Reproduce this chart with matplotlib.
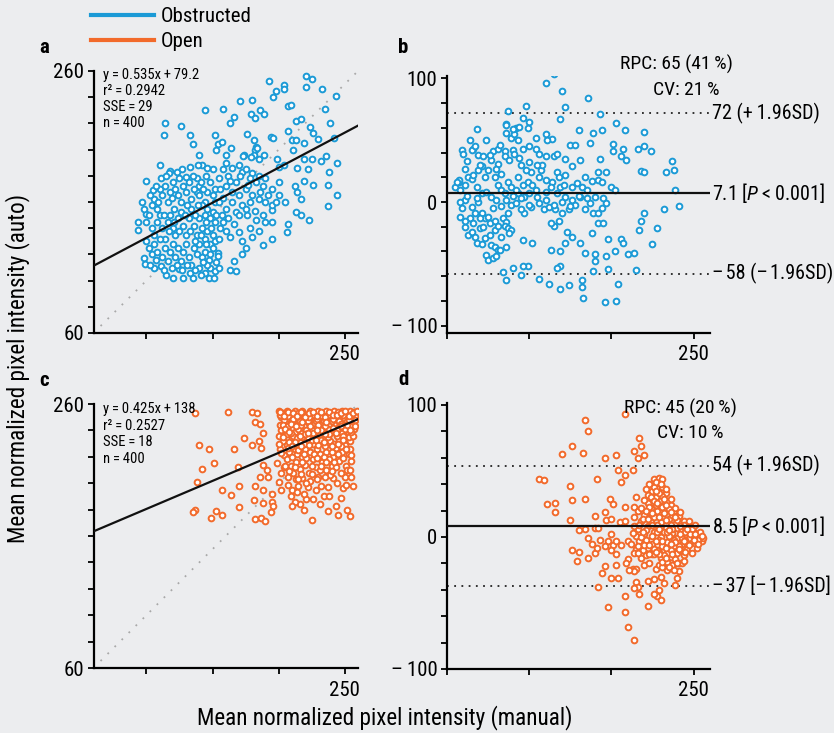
import numpy as np
import matplotlib
matplotlib.use('Agg')
import matplotlib.pyplot as plt
from matplotlib.lines import Line2D
from matplotlib import font_manager

# colours of the two groups
BLUE = '#1b9ad6'
ORANGE = '#f26a2b'
BG = '#ecedef'

# panel a: obstructed, manual vs auto
a_pts = [
    (221,256),(225,254),(193,252),(204,249),(204,246),(198,245),(221,248),(233,246),(243,241),(196,240),
    (171,237),(180,238),(207,233),(209,234),(144,230),(158,231),(186,230),(179,227),(166,225),(182,224),
    (189,227),(235,231),(213,222),(217,223),(239,220),(114,220),(126,218),(113,211),(133,211),(152,211),
    (163,220),(176,212),(194,210),(196,209),(207,214),(210,207),(213,207),(224,217),(226,213),(230,208),
    (242,209),(219,205),(211,200),(181,207),(183,202),(182,200),(135,204),(154,204),(157,206),(164,201),
    (153,200),(160,196),(174,196),(173,195),(181,196),(179,194),(184,201),(185,193),(199,193),(189,196),
    (204,188),(200,187),(219,193),(225,193),(232,191),(236,195),(244,190),(214,186),(222,185),(238,183),
    (237,173),(244,165),(237,157),(226,173),(219,176),(212,172),(214,168),(217,162),(213,152),(217,150),
    (223,146),(207,143),(206,137),(195,154),(195,145),(195,132),(188,127),(183,146),(176,150),(170,137),
    (163,133),(166,115),(175,125),(172,120),(163,108),(168,107),(154,121),(147,116),
    (160,190),(165,186),(170,188),(172,183),(175,185),(180,182),(185,180),(190,178),(183,175),(178,178),
    (188,172),(195,170),(200,175),(168,175),(162,180),(158,185),(155,178),(160,172),(165,168),(170,165),
    (175,170),(180,165),(185,162),(190,160),(195,158),(200,165),(205,160),(178,160),(172,158),(165,160),
    (158,163),(150,165),(152,170),(148,175),(145,180),(150,185),(142,188),(140,172),(138,168),(160,155),
    (168,152),(175,155),(182,153),(188,150),(163,176),(171,180),(177,173),(186,168),(192,165),(198,160),
    (156,170),(146,168),(152,160),(144,160),
    (110,188),(100,176),(105,169),(118,184),(117,182),(123,183),(130,179),(133,187),(139,188),(140,196),
    (146,186),(94,145),(100,151),(100,145),(94,139),(98,117),(99,113),(106,110),(111,111),(115,104),
    (120,102),(128,102),(135,102),(147,102),(151,102),(125,109),(133,106),(140,110),(144,106),(148,110),
    (153,114),(154,119),
    (97,160),(98,155),(102,150),(104,158),(106,162),(108,155),(110,170),(112,165),(114,172),(116,160),
    (118,168),(120,175),(122,170),(124,165),(126,160),(128,172),(130,168),(132,175),(134,162),(136,170),
    (138,178),(140,165),(142,158),(144,150),(146,155),(148,148),(150,152),(152,145),(104,140),(106,135),
    (108,145),(110,150),(112,140),(114,132),(116,145),(118,150),(120,140),(122,135),(124,148),(126,152),
    (128,142),(130,135),(132,148),(134,155),(136,142),(138,135),(140,148),(142,140),(144,132),(146,138),
    (148,128),(150,135),(100,130),(102,125),(104,120),(106,128),(108,122),(110,132),(112,118),(114,125),
    (116,115),(118,122),(120,128),(122,118),(124,125),(126,115),(128,122),(130,128),(132,118),(134,112),
    (136,125),(138,120),(140,128),(142,118),(144,122),(146,112),(148,120),(150,125),(152,130),(107,172),
    (111,178),(115,180),(119,163),(121,155),(125,178),(127,185),(131,158),(135,180),(137,150),(139,158),
    (141,175),(143,170),(145,145),(103,165),(109,160),(113,150),(117,138),(121,145),(125,138),(129,150),
    (133,138),(137,130),(141,135),(145,128),(149,140),(153,150),(155,160),(157,150),(156,140),(155,132),
    (103,112),(107,116),(113,108),(119,110),(123,112),(127,108),(131,112),(137,108),(141,104),(143,114),
    (152,107),(155,110),
    (158,145),(162,148),(166,143),(170,150),(160,138),(178,140),(185,138),(190,145),(172,130),(180,133),
]
a_fit = (0.535, 79.2)
a_stats = ['y\u2009=\u20090.535x\u2009+\u200979.2', 'r\u00b2\u2009=\u20090.2942', 'SSE\u2009=\u200929', 'n\u2009=\u2009400']

# panel b: obstructed, Bland-Altman (mean vs difference)
b_pts = [
    (165,104),(160,96),(170,90),(186,84),(172,77),(148,78),(137,74),(193,71),(169,67),(146,68),
    (150,65),(149,60),(136,63),(136,62),(203,64),(180,58),(189,56),(194,58),(208,58),(220,57),
    (187,48),(201,47),(207,43),(201,41),(206,37),(209,34),(216,43),(220,45),(224,41),(237,33),
    (238,26),(233,24),(218,25),(220,24),(193,35),(197,24),(192,24),(239,10),(241,-3),(232,-6),
    (228,-21),(225,-34),(220,-9),(218,-15),(217,-23),(215,-55),(210,-42),(214,-41),(206,-30),(207,-33),
    (204,-66),(203,-80),(196,-81),(198,-54),(197,-44),(198,-30),(202,-40),(190,-42),(190,-48),(189,-56),
    (183,-78),(182,-63),(182,-69),(184,-41),(181,-33),(174,-67),(169,-70),(169,-52),(167,-53),(169,-40),
    (163,-39),(162,-66),(156,-62),(149,-52),(146,-52),(140,-53),(145,-59),(136,-63),(134,-57),(146,-31),
    (152,-33),(172,-33),(176,-28),(173,-24),(192,-17),(195,-17),(188,-25),
    (114,50),(116,43),(118,59),(124,50),(119,38),(122,37),(128,41),(131,43),(135,41),(140,42),
    (141,39),(136,56),(139,52),(141,55),(142,60),(144,61),(140,59),(143,50),(146,43),(150,45),
    (154,52),(160,55),(164,51),(161,50),(154,43),(156,39),(160,37),(165,37),(167,39),(172,35),
    (175,46),(178,46),(181,34),(176,29),(167,24),(172,22),(164,16),(163,12),(169,12),(171,14),
    (176,12),(179,15),(182,12),(184,20),(188,17),(192,18),(194,16),(185,10),(181,4),(176,2),
    (172,4),(167,7),(160,8),(156,20),(151,24),(148,26),(145,30),(157,26),(158,30),
    (105,12),(107,16),(108,10),(111,14),(113,20),(115,19),(118,12),(121,7),(123,20),(125,26),
    (129,20),(131,14),(133,10),(137,16),(139,12),(143,7),(136,2),(127,4),(119,0),(111,2),
    (108,0),(109,-5),(115,-4),(121,-9),(117,-9),(123,-13),(126,-17),(129,-15),(134,-13),(137,-9),
    (139,-2),(142,-1),(147,-9),(151,-4),(156,-1),(159,-6),(162,-4),(166,-6),(168,-15),(165,-19),
    (163,-17),(170,-9),(174,-6),(178,-2),(184,-6),(187,-1),(189,-9),(192,-9),(194,-5),(197,-1),
    (200,12),(202,10),
    (108,-12),(111,-20),(113,-27),(115,-24),(117,-28),(120,-21),(122,-20),(123,-29),(126,-27),(127,-35),
    (129,-36),(131,-39),(124,-43),(125,-47),(128,-45),(130,-44),(132,-39),(136,-36),(118,-33),(121,-34),
    (136,-16),(135,-19),(137,-21),(139,-23),(138,-25),(133,-28),(129,-23),(131,-19),(114,-13),(120,-13),
    (125,-12),(116,-17),(111,-15),
    (109,42),(110,39),(115,42),(117,45),(127,34),(131,31),(135,37),(138,34),(130,27),(133,23),
    (121,29),(119,26),(116,22),(111,27),(112,33),(107,18),(106,16),(143,20),(146,14),(149,16),
    (150,7),(154,10),(147,4),(142,10),(135,7),
    (112,5),(118,3),(124,8),(130,2),(145,3),(150,-2),(155,4),(160,2),(165,-2),(170,0),
    (175,-3),(180,5),(185,3),(190,4),(195,3),(128,-5),(133,-3),(140,5),(145,-6),(152,14),
    (160,18),(168,20),(120,30),(126,38),(132,46),(144,36),(150,32),(155,30),
]
b_mean, b_upper, b_lower = 7.1, 72, -58
b_labels = ['72 (+\u20091.96SD)', '7.1 [$P$\u2009<\u20090.001]', '\u2013\u200a58 (\u2013\u200a1.96SD)']
b_rpc = ['RPC: 65 (41\u2009%)', 'CV: 21\u2009%']

# panel c: open, manual vs auto
c_pts = [
    (137,253),(162,254),(180,254),(184,253),(182,246),(186,245),(188,238),(174,234),(185,232),(180,229),
    (187,227),(140,229),(147,226),(166,226),(151,215),(169,212),(142,211),(138,201),(157,195),(170,198),
    (164,191),(182,198),(188,195),(181,187),(188,185),(195,192),(195,186),(196,183),(170,182),(137,180),
    (135,178),(153,179),(157,176),(149,174),(194,178),(182,173),(187,174),(190,171),(225,172),(237,179),
    (245,176),(254,175),(231,184),(216,184),(221,188),(232,198),(237,197),(249,196),(241,204),(250,205),
    (255,205),(240,213),(251,213),(255,217),(253,222),(254,226),(222,197),(218,204),(210,195),(207,199),
    (202,195),(200,201),(202,208),(192,205),(191,210),(186,205),(188,214),(199,215),(204,212),
    (200,255),(203,253),(206,255),(209,252),(212,255),(215,253),(218,255),(221,252),(224,255),(227,253),
    (230,255),(233,252),(236,255),(239,253),(242,255),(245,254),(248,255),(251,253),(254,255),(257,254),
    (202,250),(208,249),(214,250),(220,248),(226,250),(232,249),(238,250),(244,250),(250,249),(256,250),
    (201,244),(205,246),(210,242),(214,245),(219,243),(223,246),(228,242),(233,245),(237,241),(242,245),
    (246,242),(251,245),(255,243),(204,240),(212,239),(217,238),(225,240),(231,237),(240,239),(248,238),
    (253,238),
    (200,236),(203,232),(206,229),(210,234),(213,228),(216,232),(220,226),(222,235),(226,230),(229,226),
    (232,233),(235,228),(239,232),(243,227),(246,233),(250,229),(254,232),(208,224),(214,222),(219,230),
    (224,224),(231,222),(236,224),(241,220),(248,224),(201,226),(204,221),
    (206,218),(209,213),(211,208),(213,216),(216,211),(218,220),(220,214),(223,208),(226,218),(228,212),
    (230,205),(233,216),(236,210),(238,218),(243,212),(246,217),(252,210),(207,205),(213,203),
    (209,190),(212,186),(215,198),(219,192),(224,202),(228,195),(234,190),
    (201,252),(204,248),(207,251),(210,247),(213,251),(216,247),(219,251),(222,247),(225,252),(228,247),
    (231,251),(234,247),(237,252),(240,247),(243,251),(246,247),(249,252),(252,247),(255,252),(258,251),
    (206,237),(211,236),(215,241),(221,240),(227,236),(234,239),(244,236),(250,241),(257,246),(208,231),
    (212,226),(218,235),(225,233),(230,229),(237,235),(242,230),(247,228),(253,235),(215,225),(221,219),
    (227,222),(234,220),(240,224),(245,222),(210,220),(205,213),(217,207),(225,213),(231,210),(239,206),
    (202,240),(257,241),(256,236),(200,230),
    (203,244),(207,243),(211,249),(217,244),(223,250),(229,249),(235,243),(241,249),(247,245),(253,248),
    (258,248),(209,238),(214,234),(220,237),(226,238),(232,240),(238,237),(244,240),(249,236),(255,239),
    (202,223),(207,227),(212,231),(217,228),(223,229),(228,233),(234,231),(240,228),(245,230),(251,226),
    (210,228),(219,222),(229,219),(236,216),(242,216),(249,219),(255,221),(212,212),(218,216),(225,207),
    (232,213),(240,209),(247,208),(254,210),(208,209),(215,203),(221,200),(229,203),(235,205),(244,200),
    (251,199),(214,193),(226,188),(238,190),(247,189),(256,198),(210,183),(219,180),(243,183),(252,180),
    (201,254),(204,251),(207,254),(211,253),(214,251),(217,254),(220,250),(223,253),(226,254),(229,251),
    (232,254),(235,250),(238,254),(241,252),(244,252),(247,253),(250,255),(253,251),(256,253),(259,255),
    (205,241),(209,245),(213,243),(218,246),(224,243),(230,244),(236,246),(241,242),(247,243),(252,244),
    (203,235),(208,239),(216,236),(222,238),(229,240),(235,237),(243,238),(249,233),(254,240),(258,243),
]
c_fit = (0.425, 138)
c_stats = ['y\u2009=\u20090.425x\u2009+\u2009138', 'r\u00b2\u2009=\u20090.2527', 'SSE\u2009=\u200918', 'n\u2009=\u2009400']

# panel d: open, Bland-Altman
d_pts = [
    (208,93),(184,89),(186,80),(176,69),(183,64),(170,63),(196,60),(203,62),(217,75),(218,69),
    (214,65),(216,60),(220,62),(204,51),(213,51),(208,47),(206,42),(191,44),(156,44),(159,43),
    (175,39),(161,25),(166,26),(176,28),(184,29),(166,19),(175,13),(190,16),(196,19),(199,29),
    (201,25),(208,23),(215,30),(214,23),(197,13),(200,14),(205,11),(208,12),(184,6),(190,7),
    (192,7),(186,-1),(193,-2),(198,-3),(200,2),(201,-6),(203,-3),(196,-7),(200,-10),(203,-13),
    (206,-6),(210,-3),(212,-5),(215,-9),(214,-12),(210,-17),(213,-24),(215,-24),(218,-16),(220,-21),
    (221,-14),(223,-20),(225,-13),(227,-24),(229,-21),(232,-20),(234,-25),(233,-19),(238,-11),(241,-20),
    (243,-20),(241,-26),(240,-31),(239,-36),(232,-35),(230,-30),(226,-32),(222,-33),(229,-40),(228,-45),
    (230,-48),(226,-43),(222,-52),(215,-34),(216,-38),(214,-39),(217,-43),(214,-26),(211,-25),(209,-20),
    (203,-21),(200,-31),(204,-31),(198,-53),(208,-45),(208,-57),(210,-68),(214,-78),(176,-10),(180,-11),
    (179,-18),(186,-16),(190,-12),(191,-8),(180,5),(188,-5),(194,-27),(196,-22),(192,-38),
    (226,44),(229,41),(228,37),(231,38),(225,35),(233,33),(227,30),(230,28),(234,27),(222,26),
    (236,24),(224,22),(238,20),(228,20),(232,18),(220,17),(241,16),(226,15),(235,14),(218,12),
    (244,12),(230,11),(239,10),(222,8),(247,8),(233,7),(216,6),(242,5),(226,4),(250,4),
    (237,3),(220,2),(245,1),(230,0),(253,0),(240,-1),(224,-2),(248,-3),(234,-4),(218,-5),
    (255,-3),(243,-5),(228,-6),(251,-6),(238,-7),(222,-8),(246,-9),(232,-10),(240,-12),(226,-13),
    (236,-15),(230,-16),(234,-19),(244,-14),(217,-3),(215,1),(219,14),(223,19),(227,24),(231,31),
    (235,21),(237,17),(240,7),(243,-1),(247,-1),(250,0),(252,-4),(254,1),(222,32),(226,38),
    (224,11),(228,9),(232,4),(236,9),(238,-2),(241,-7),(228,-10),(225,-5),(219,-10),(221,-2),
    (216,-12),(213,3),(214,15),(216,20),(220,28),(223,40),(229,45),(231,23),(233,13),(235,1),
    (245,4),(249,-8),(253,-2),(242,-10),(229,-2),(231,-7),(234,-12),(239,-17),(237,-21),
    (224,30),(229,33),(233,36),(227,42),(231,44),(221,36),(218,22),(222,14),(225,18),(229,15),
    (233,24),(236,29),(239,22),(242,19),(240,13),(244,9),(247,12),(249,6),(251,9),(254,4),
    (256,-1),(252,-8),(249,-12),(246,-5),(244,-18),(240,-20),(236,-10),(232,-14),(229,-13),(226,-9),
    (223,-13),(220,-6),(218,0),(216,-7),(214,8),(217,9),(221,5),(225,1),(228,4),(231,-3),
    (234,4),(237,6),(239,-4),(242,2),(245,-2),(248,2),(251,2),(235,-23),(231,-23),(238,-25),
    (227,35),(230,40),(226,27),(232,29),(223,23),(228,26),(236,19),(221,20),(239,15),(225,9),
    (242,8),(229,6),(246,6),(235,5),(219,4),(244,-3),(227,-3),(250,-2),(236,-5),(223,-6),
    (247,-6),(233,-8),(241,-9),(227,-11),(237,-13),(231,-19),(233,-16),(245,-11),(255,1),(253,-5),
]
d_mean, d_upper, d_lower = 8.5, 54, -37
d_labels = ['54 (+\u20091.96SD)', '8.5 [$P$\u2009<\u20090.001]', '\u2013\u200a37 [\u2013\u200a1.96SD]']
d_rpc = ['RPC: 45 (20\u2009%)', 'CV: 10\u2009%']

# pick a condensed sans if one is installed
avail = {f.name for f in font_manager.fontManager.ttflist}
cands = ['Roboto Condensed', 'PT Sans Narrow', 'Fira Sans Condensed', 'Archivo Narrow',
         'Open Sans Condensed', 'Liberation Sans Narrow', 'Asap Condensed', 'DejaVu Sans']
FONT = next(c for c in cands if c in avail)
plt.rcParams['font.family'] = [FONT, 'DejaVu Sans']
plt.rcParams['mathtext.fontset'] = 'custom'
plt.rcParams['mathtext.rm'] = FONT
plt.rcParams['mathtext.it'] = FONT + ':italic'

W, H = 834, 733
fig = plt.figure(figsize=(W / 100, H / 100), dpi=100, facecolor=BG)


def box(l, t, r, b):
    return [l / W, 1 - b / H, (r - l) / W, (b - t) / H]


ax_a = fig.add_axes(box(93.5, 71, 358, 333))
ax_b = fig.add_axes(box(447, 76, 710, 333))
ax_c = fig.add_axes(box(93.5, 404, 358, 668))
ax_d = fig.add_axes(box(447, 403, 710, 669))


def style(ax):
    ax.set_facecolor(BG)
    for s in ['top', 'right']:
        ax.spines[s].set_visible(False)
    for s in ['left', 'bottom']:
        ax.spines[s].set_linewidth(1.6)
    ax.tick_params(direction='out', length=4, width=1.3, labelsize=15, pad=3)
    ax.tick_params(axis='x', pad=5)


def scatter_panel(ax, pts, fit, stats, color, y0, dy):
    style(ax)
    x, y = np.array(pts).T
    ax.axline((60, 60), slope=1, color='#a9a9a9', lw=1.3, ls=(0, (1, 4.5)), zorder=1)
    ax.scatter(x, y, s=17, facecolors='white', edgecolors=color, linewidths=1.4, zorder=2)
    ax.axline((0, fit[1]), slope=fit[0], color='#111111', lw=1.6, zorder=3)
    ax.set_xlim(60, 260)
    ax.set_ylim(60, 260)
    yt = np.arange(60, 261, 20)
    ax.set_yticks(yt)
    ax.set_yticklabels(['60'] + [''] * (len(yt) - 2) + ['260'])
    ax.set_xticks([100, 150, 200, 250])
    ax.set_xticklabels(['', '', '', '250'])
    for i, s in enumerate(stats):
        ax.text(0.036, y0 - i * dy, s, transform=ax.transAxes, fontsize=10.5,
                ha='left', va='center', zorder=4)


def ba_panel(ax, pts, mean, upper, lower, labels, rpc, color, ylim, rpc_pos):
    style(ax)
    x, y = np.array(pts).T
    ax.scatter(x, y, s=17, facecolors='white', edgecolors=color, linewidths=1.4, zorder=2)
    ax.axhline(mean, color='#111111', lw=1.6, zorder=3)
    ax.axhline(upper, color='#222222', lw=1.3, ls=(0, (1, 3)), zorder=1)
    ax.axhline(lower, color='#222222', lw=1.3, ls=(0, (1, 3)), zorder=1)
    ax.set_xlim(100, 260)
    ax.set_ylim(*ylim)
    yt = np.arange(-100, 101, 20)
    ax.set_yticks(yt)
    ax.set_yticklabels(['\u2013\u2009100' if v == -100 else ('0' if v == 0 else ('100' if v == 100 else ''))
                        for v in yt])
    ax.set_xticks([100, 150, 200, 250])
    ax.set_xticklabels(['', '', '', '250'])
    tr = ax.get_yaxis_transform()
    for val, lab in zip([upper, mean, lower], labels):
        ax.text(1.008, val, lab, transform=tr, fontsize=14.5, ha='left', va='center', clip_on=False)
    for (px, py), s in zip(rpc_pos, rpc):
        ax.text(px, py, s, transform=ax.transAxes, fontsize=14, ha='center', va='center')


scatter_panel(ax_a, a_pts, a_fit, a_stats, BLUE, 0.985, 0.061)
ba_panel(ax_b, b_pts, b_mean, b_upper, b_lower, b_labels, b_rpc, BLUE, (-106, 102),
         [(0.871, 1.047), (0.909, 0.945)])
scatter_panel(ax_c, c_pts, c_fit, c_stats, ORANGE, 0.981, 0.0625)
ba_panel(ax_d, d_pts, d_mean, d_upper, d_lower, d_labels, d_rpc, ORANGE, (-100, 101.5),
         [(0.886, 0.981), (0.924, 0.887)])

# panel letters
for ax, letter, lx, ly in [(ax_a, 'a', -0.205, 1.09), (ax_b, 'b', -0.185, 1.109),
                           (ax_c, 'c', -0.205, 1.09), (ax_d, 'd', -0.185, 1.087)]:
    ax.text(lx, ly, letter, transform=ax.transAxes, fontsize=15, fontweight='bold',
            ha='left', va='center')

handles = [Line2D([], [], color=BLUE, lw=3), Line2D([], [], color=ORANGE, lw=3)]
fig.legend(handles, ['Obstructed', 'Open'], loc='upper left', bbox_to_anchor=(91 / W, 1 - 7 / H),
           frameon=False, fontsize=15, handlelength=3.0, handletextpad=0.35,
           labelspacing=0.3, borderpad=0, borderaxespad=0)

fig.text(18 / W, 1 - 368 / H, 'Mean normalized pixel intensity (auto)', rotation=90,
         ha='center', va='center', fontsize=16.7)
fig.text(385 / W, 1 - 718 / H, 'Mean normalized pixel intensity (manual)',
         ha='center', va='center', fontsize=16.7)

fig.savefig('out.png', dpi=100, facecolor=BG)
